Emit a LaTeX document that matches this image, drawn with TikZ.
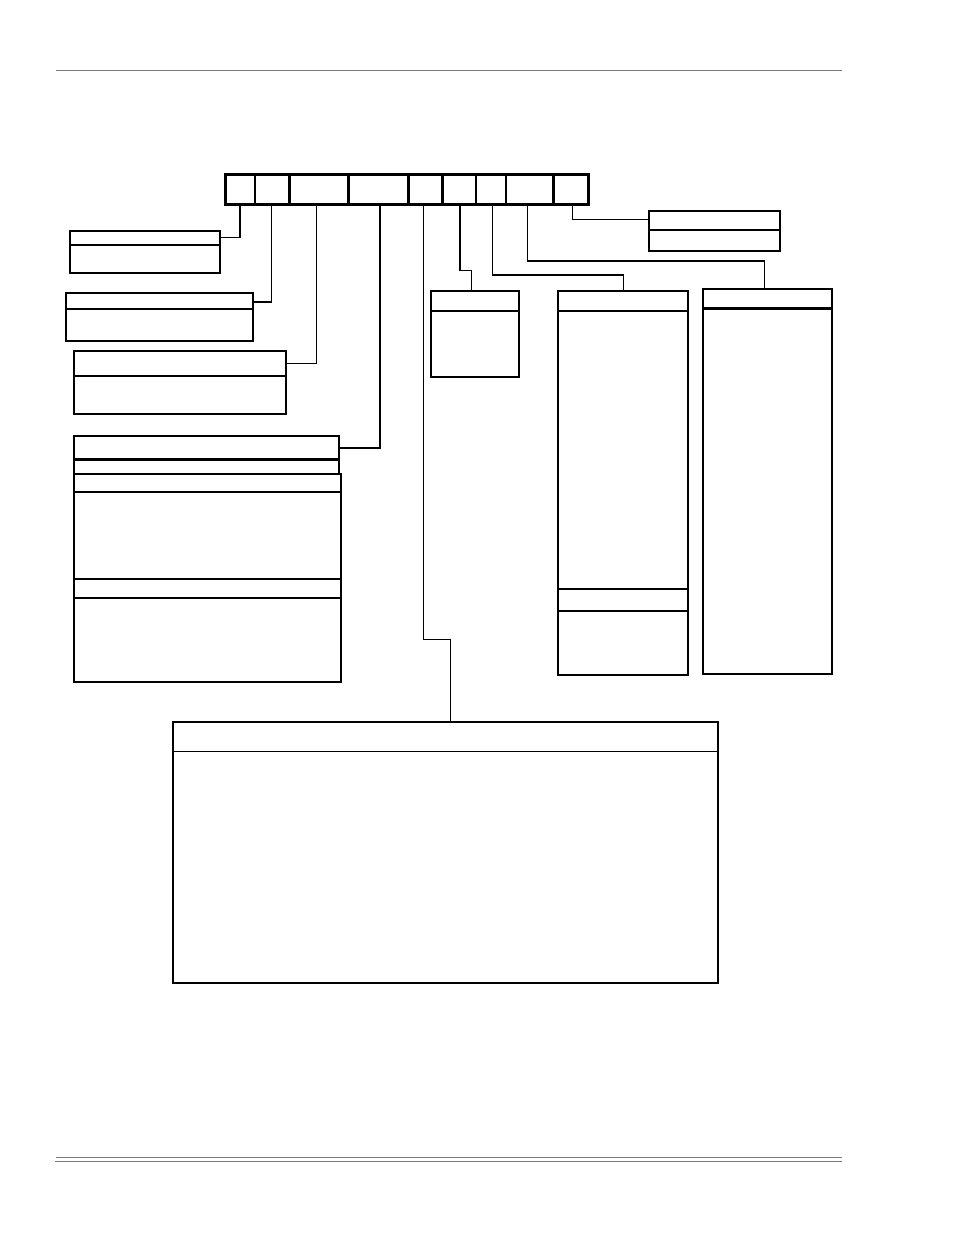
\documentclass[tikz,border=0pt]{standalone}
\begin{document}
\begin{tikzpicture}[x=1pt,y=-1pt,
  box/.style={draw, line width=2pt, inner sep=0pt, outer sep=0pt, anchor=north west},
  div/.style={line width=2pt},
  thindiv/.style={line width=1.3pt},
  thickdiv/.style={line width=2.8pt},
  conn/.style={line width=1.1pt},
  hrule/.style={draw=black!53, line width=1.1pt}]
\useasboundingbox (0,0) rectangle (954,1235);
% page rules
\coordinate (h1) at (56,70.5); \coordinate (h2) at (842,70.5);
\draw[hrule] (h1) -- (h2);
\coordinate (f1) at (56,1157.3); \coordinate (f2) at (842,1157.3);
\coordinate (f3) at (55,1161.3); \coordinate (f4) at (842,1161.3);
\draw[hrule] (f1) -- (f2);
\draw[hrule] (f3) -- (f4);
% top bar
\node[box, line width=3pt, minimum width=363pt, minimum height=30pt] (bar) at (225,174) {};
\foreach \xx in {255,289.3,348.3,408.3,442.3,476,506,553.3}
  \draw[line width=2.4pt] (bar.north -| \xx,0) -- (bar.south -| \xx,0);
% left boxes
\node[box, minimum width=150.3pt, minimum height=42.3pt] (b1) at (70,231) {};
\draw[div] (b1.west |- 0,245.3) -- (b1.east |- 0,245.3);
\node[box, minimum width=187.3pt, minimum height=48pt] (b2) at (65.7,292.7) {};
\draw[div] (b2.west |- 0,308.7) -- (b2.east |- 0,308.7);
\node[box, minimum width=212.3pt, minimum height=63pt] (b3) at (73.7,351) {};
\draw[div] (b3.west |- 0,375.7) -- (b3.east |- 0,375.7);
\node[box, minimum width=265.3pt, minimum height=38.6pt] (b4a) at (74,435.7) {};
\draw[thickdiv] (b4a.west |- 0,459.7) -- (b4a.east |- 0,459.7);
\node[box, minimum width=267pt, minimum height=208pt] (b4b) at (74,474.3) {};
\draw[div] (b4b.west |- 0,491.7) -- (b4b.east |- 0,491.7);
\draw[div] (b4b.west |- 0,579) -- (b4b.east |- 0,579);
\draw[div] (b4b.west |- 0,597.7) -- (b4b.east |- 0,597.7);
% right boxes
\node[box, minimum width=88pt, minimum height=86pt] (b5) at (431,290.7) {};
\draw[div] (b5.west |- 0,311) -- (b5.east |- 0,311);
\node[box, minimum width=130.6pt, minimum height=384.6pt] (b6) at (557.7,290.7) {};
\draw[div] (b6.west |- 0,311) -- (b6.east |- 0,311);
\draw[div] (b6.west |- 0,589.3) -- (b6.east |- 0,589.3);
\draw[div] (b6.west |- 0,610.7) -- (b6.east |- 0,610.7);
\node[box, minimum width=131pt, minimum height=39.7pt] (b7) at (649,211) {};
\draw[div] (b7.west |- 0,230) -- (b7.east |- 0,230);
\node[box, minimum width=129.6pt, minimum height=384.7pt] (b8) at (702.7,289) {};
\draw[thickdiv] (b8.west |- 0,308.3) -- (b8.east |- 0,308.3);
% big box
\node[box, minimum width=545pt, minimum height=261pt] (big) at (173,721.7) {};
\draw[thindiv] (big.west |- 0,751.3) -- (big.east |- 0,751.3);
% connectors
\coordinate (k1) at (240,204);
\coordinate (k2) at (271.7,204);
\coordinate (k3) at (316.5,204);
\coordinate (k4) at (380,204);
\coordinate (k5) at (423.3,204);
\coordinate (k6) at (460,204);
\coordinate (k7) at (492.7,204);
\coordinate (k8) at (527.7,204);
\coordinate (k9) at (572.3,204);
\draw[conn] (k1) |- (b1.east |- 0,237.3);
\draw[conn] (k2) |- (b2.east |- 0,302);
\draw[conn] (k3) |- (b3.east |- 0,363.3);
\draw[conn, line width=1.6pt] (k4) |- (b4a.east |- 0,447.7);
\draw[conn] (k5) |- (450.4,639.3) -- (big.north -| 450.4,0);
\draw[conn] (k6) |- (471.7,270.7) -- (b5.north -| 471.7,0);
\draw[conn] (k7) |- (623.3,275) -- (b6.north -| 623.3,0);
\draw[conn] (k8) |- (764.3,261) -- (b8.north -| 764.3,0);
\draw[conn] (k9) |- (b7.west |- 0,219.3);
\end{tikzpicture}
\end{document}
